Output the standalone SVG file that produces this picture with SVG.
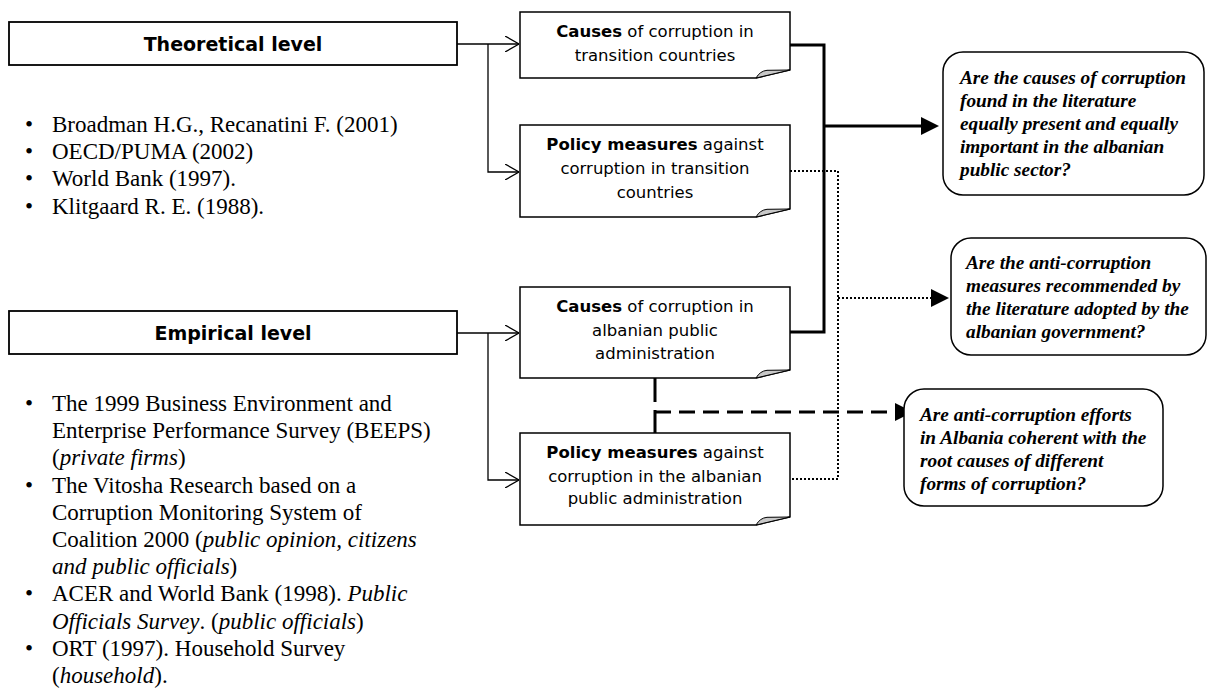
<svg xmlns="http://www.w3.org/2000/svg" width="1208" height="690" viewBox="0 0 1208 690">
<defs>
<style>
.lvl{fill:#fff;stroke:#000;stroke-width:1.8}
.lvlt{font-family:"DejaVu Sans",sans-serif;font-weight:bold;font-size:19px;fill:#000;text-anchor:middle}
.box{fill:#fff;stroke:#000;stroke-width:1.5}
.curl{fill:#c8c8c8;stroke:#000;stroke-width:1}
.bt{font-family:"DejaVu Sans",sans-serif;font-size:16.5px;fill:#000;text-anchor:middle}
.b{font-weight:bold}
.q{fill:#fff;stroke:#000;stroke-width:1.5}
.qt{font-family:"Liberation Serif","Times New Roman",serif;font-weight:bold;font-style:italic;font-size:19.3px;fill:#000}
.lt{font-family:"Liberation Serif","Times New Roman",serif;font-size:23px;fill:#000}
.i{font-style:italic}
.thin{fill:none;stroke:#000;stroke-width:1.3}
.thick{fill:none;stroke:#000;stroke-width:3}
.dot{fill:none;stroke:#000;stroke-width:2;stroke-dasharray:2 2}
.dash{fill:none;stroke:#000;stroke-width:3;stroke-dasharray:16 8}
</style>
<marker id="open" viewBox="0 0 14 16" refX="14" refY="8" markerWidth="14" markerHeight="16" markerUnits="userSpaceOnUse" orient="auto">
<path d="M0,0 L14,8 L0,16" fill="none" stroke="#000" stroke-width="1.3"/>
</marker>
<marker id="tri" viewBox="0 0 18 18" refX="0" refY="9" markerWidth="18" markerHeight="18" markerUnits="userSpaceOnUse" orient="auto">
<path d="M0,0 L18,9 L0,18 Z" fill="#000"/>
</marker>
</defs>
<rect width="1208" height="690" fill="#fff"/>

<g id="connectors">
<path class="thin" d="M457,44 H519" marker-end="url(#open)"/>
<path class="thin" d="M488,44 V172 H519" marker-end="url(#open)"/>
<path class="thin" d="M457,333 H519" marker-end="url(#open)"/>
<path class="thin" d="M488,333 V480 H519" marker-end="url(#open)"/>
<path class="thick" d="M790,45 H824 V332 H790"/>
<path class="thick" d="M824,126 H921" marker-end="url(#tri)"/>
<path class="dot" d="M790,171 H838 V479 H790"/>
<path class="dot" d="M838,298 H931" marker-end="url(#tri)"/>
<path fill="none" stroke="#000" stroke-width="3" stroke-dasharray="24 8" d="M655,378 V433"/>
<path class="dash" d="M655,412 H895" marker-end="url(#tri)"/>
</g>

<g id="theoretical">
<rect class="lvl" x="9" y="22" width="448" height="43"/>
<text class="lvlt" x="233" y="51">Theoretical level</text>
</g>

<g id="theoretical-refs" class="lt">
<text x="25" y="132">•</text><text x="52" y="132">Broadman H.G., Recanatini F. (2001)</text>
<text x="25" y="159">•</text><text x="52" y="159">OECD/PUMA (2002)</text>
<text x="25" y="186">•</text><text x="52" y="186">World Bank (1997).</text>
<text x="25" y="214">•</text><text x="52" y="214">Klitgaard R. E. (1988).</text>
</g>

<g id="empirical">
<rect class="lvl" x="9" y="311" width="448" height="43"/>
<text class="lvlt" x="233" y="340">Empirical level</text>
</g>

<g id="empirical-refs" class="lt">
<text x="25" y="411">•</text><text x="52" y="411">The 1999 Business Environment and</text>
<text x="52" y="438.2">Enterprise Performance Survey (BEEPS)</text>
<text x="52" y="465.4">(<tspan class="i">private firms</tspan>)</text>
<text x="25" y="492.6">•</text><text x="52" y="492.6">The Vitosha Research based on a</text>
<text x="52" y="519.8">Corruption Monitoring System of</text>
<text x="52" y="547">Coalition 2000 (<tspan class="i">public opinion, citizens</tspan></text>
<text x="52" y="574.2"><tspan class="i">and public officials</tspan>)</text>
<text x="25" y="601.4">•</text><text x="52" y="601.4">ACER and World Bank (1998). <tspan class="i">Public</tspan></text>
<text x="52" y="628.6"><tspan class="i">Officials Survey</tspan>. (<tspan class="i">public officials</tspan>)</text>
<text x="25" y="655.8">•</text><text x="52" y="655.8">ORT (1997). Household Survey</text>
<text x="52" y="683">(<tspan class="i">household</tspan>).</text>
</g>

<g id="causes-transition">
<path class="box" d="M520,12 H790 V70 L756,78 H520 Z"/>
<path class="curl" d="M756,78 Q760,71 767,70.3 L790,70 Z"/>
<text class="bt" x="655" y="37"><tspan class="b">Causes</tspan> of corruption in</text>
<text class="bt" x="655" y="60.5">transition countries</text>
</g>

<g id="policy-transition">
<path class="box" d="M520,125 H790 V209 L756,217 H520 Z"/>
<path class="curl" d="M756,217 Q760,210 767,209.3 L790,209 Z"/>
<text class="bt" x="655" y="150"><tspan class="b">Policy measures</tspan> against</text>
<text class="bt" x="655" y="174">corruption in transition</text>
<text class="bt" x="655" y="197.5">countries</text>
</g>

<g id="causes-albania">
<path class="box" d="M520,287 H790 V370 L756,378 H520 Z"/>
<path class="curl" d="M756,378 Q760,371 767,370.3 L790,370 Z"/>
<text class="bt" x="655" y="311.5"><tspan class="b">Causes</tspan> of corruption in</text>
<text class="bt" x="655" y="335.5">albanian public</text>
<text class="bt" x="655" y="358.5">administration</text>
</g>

<g id="policy-albania">
<path class="box" d="M520,433 H790 V517 L756,525 H520 Z"/>
<path class="curl" d="M756,525 Q760,518 767,517.3 L790,517 Z"/>
<text class="bt" x="655" y="458"><tspan class="b">Policy measures</tspan> against</text>
<text class="bt" x="655" y="481.5">corruption in the albanian</text>
<text class="bt" x="655" y="504">public administration</text>
</g>

<g id="question-1">
<rect class="q" x="943" y="52" width="261" height="143" rx="20"/>
<text class="qt" x="960" y="84">Are the causes of corruption</text>
<text class="qt" x="960" y="107">found in the literature</text>
<text class="qt" x="960" y="130">equally present and equally</text>
<text class="qt" x="960" y="153">important in the albanian</text>
<text class="qt" x="960" y="176">public sector?</text>
</g>

<g id="question-2">
<rect class="q" x="951" y="238" width="255" height="117" rx="20"/>
<text class="qt" x="966" y="269">Are the anti-corruption</text>
<text class="qt" x="966" y="292">measures recommended by</text>
<text class="qt" x="966" y="315">the literature adopted by the</text>
<text class="qt" x="966" y="338">albanian government?</text>
</g>

<g id="question-3">
<rect class="q" x="904" y="389" width="259" height="117" rx="20"/>
<text class="qt" x="920" y="421">Are anti-corruption efforts</text>
<text class="qt" x="920" y="444">in Albania coherent with the</text>
<text class="qt" x="920" y="467">root causes of different</text>
<text class="qt" x="920" y="490">forms of corruption?</text>
</g>
</svg>
